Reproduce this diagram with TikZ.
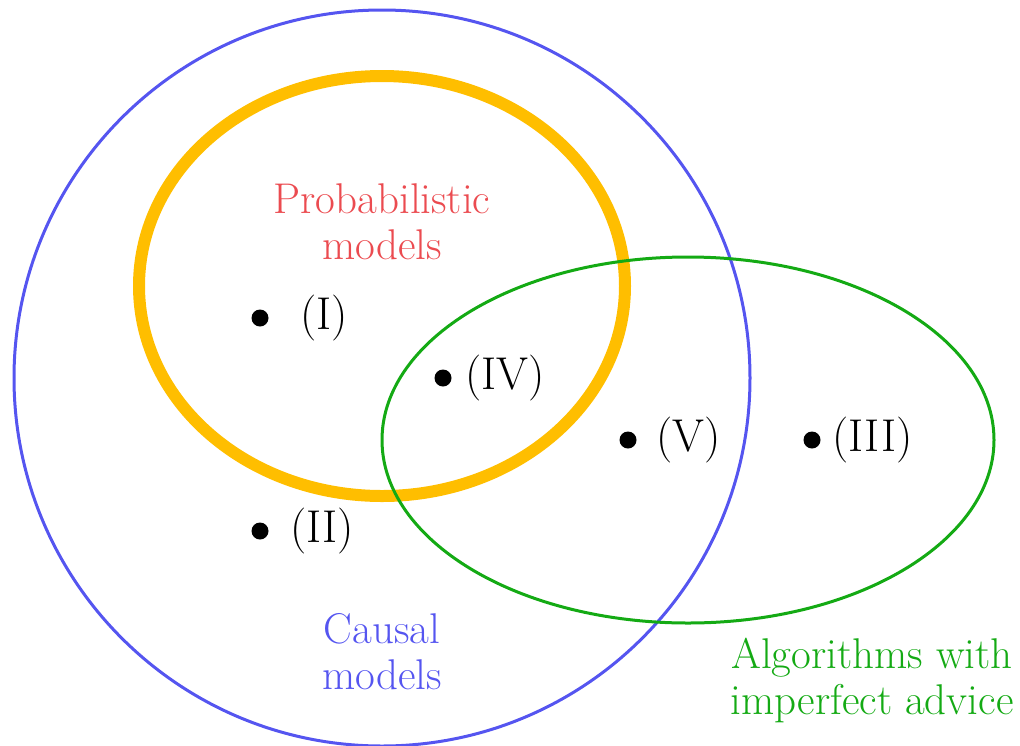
\documentclass[tikz,border=0pt]{standalone}
\usepackage{tikz}
\definecolor{cblue}{RGB}{85,85,240}
\definecolor{cred}{RGB}{235,75,80}
\definecolor{cgreen}{RGB}{20,170,20}
\definecolor{corange}{RGB}{255,190,0}
\begin{document}
\begin{tikzpicture}[x=1pt,y=-1pt,
  lbl/.style={font=\fontsize{43}{46}\selectfont, align=center, inner sep=0pt},
  ptlbl/.style={font=\fontsize{46}{50}\selectfont, inner sep=0pt, anchor=west},
  dotnode/.style={circle, fill=black, inner sep=0pt, minimum size=17pt}]
\useasboundingbox (0,0) rectangle (1020,745);
\draw[cblue, line width=3pt] (382,378) circle[radius=368];
\draw[corange, line width=12pt] (382,286) ellipse[x radius=243, y radius=210];
\draw[cgreen, line width=3pt] (688,440) ellipse[x radius=306, y radius=183];
\node[lbl, text=cred] (prob) at (382,222) {Probabilistic\\models};
\node[lbl, text=cblue] (causal) at (382,652) {Causal\\models};
\node[lbl, text=cgreen] (algo) at (872,680) {Algorithms with\\imperfect advice};
\node[dotnode] (d1) at (260,318) {};
\node[ptlbl] (l1) at (300,318) {(I)};
\node[dotnode] (d2) at (260,531) {};
\node[ptlbl] (l2) at (290,531) {(II)};
\node[dotnode] (d4) at (443,378) {};
\node[ptlbl] (l4) at (465,378) {(IV)};
\node[dotnode] (d5) at (628,440) {};
\node[ptlbl] (l5) at (656,440) {(V)};
\node[dotnode] (d3) at (812,440) {};
\node[ptlbl] (l3) at (832,440) {(III)};
\end{tikzpicture}
\end{document}
